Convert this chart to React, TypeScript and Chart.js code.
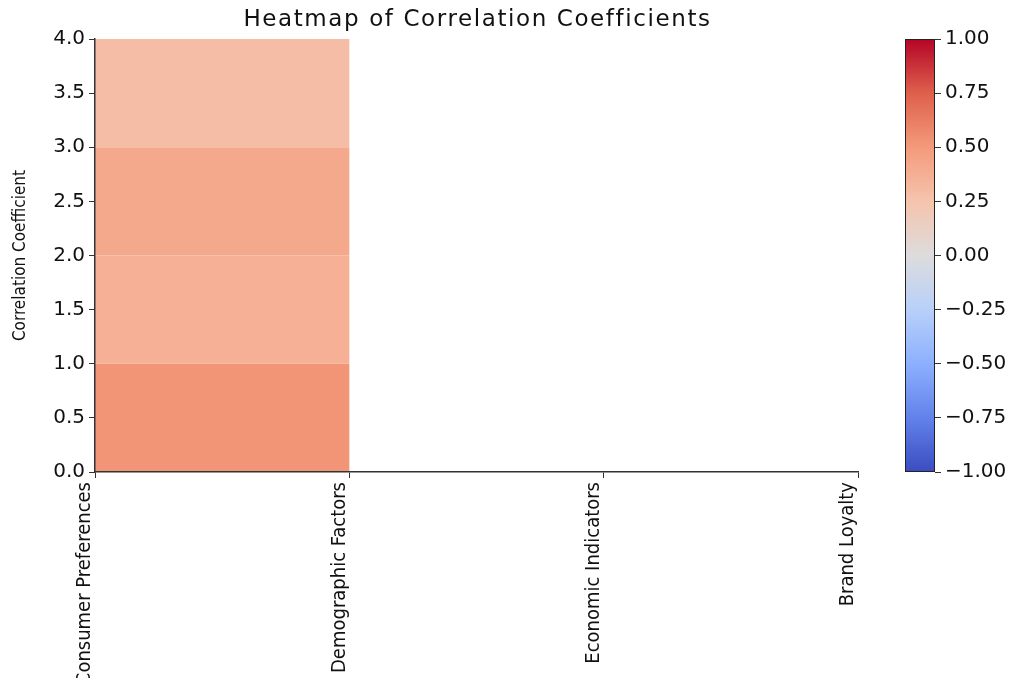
import React, { useEffect, useRef } from "react";
import { Chart, registerables } from "chart.js";

Chart.register(...registerables);

const chartTitle = "Heatmap of Correlation Coefficients";
const yAxisTitle = "Correlation Coefficient";
const categories = ["Consumer Preferences", "Demographic Factors", "Economic Indicators", "Brand Loyalty"];
const cellColumnStart = [0, 0, 0, 0];
const cellColumnEnd = [1, 1, 1, 1];
const rowLower = [0, 1, 2, 3];
const rowUpper = [1, 2, 3, 4];
const correlations = [0.52, 0.37, 0.41, 0.29];
const yTicks = [0, 0.5, 1, 1.5, 2, 2.5, 3, 3.5, 4];
const colorbarTicks = [-1, -0.75, -0.5, -0.25, 0, 0.25, 0.5, 0.75, 1];

const coolwarmStops: [number, number, number, number][] = [
  [0.0, 59, 76, 192],
  [0.125, 98, 130, 234],
  [0.25, 141, 176, 254],
  [0.375, 184, 208, 249],
  [0.5, 221, 220, 220],
  [0.625, 245, 196, 173],
  [0.75, 244, 154, 123],
  [0.875, 222, 96, 77],
  [1.0, 180, 4, 38],
];

function coolwarm(v: number): string {
  const t = Math.max(0, Math.min(1, (v + 1) / 2));
  for (let i = 0; i < coolwarmStops.length - 1; i++) {
    const a = coolwarmStops[i];
    const b = coolwarmStops[i + 1];
    if (t >= a[0] && t <= b[0]) {
      const f = (t - a[0]) / (b[0] - a[0]);
      const r = Math.round(a[1] + (b[1] - a[1]) * f);
      const g = Math.round(a[2] + (b[2] - a[2]) * f);
      const bl = Math.round(a[3] + (b[3] - a[3]) * f);
      return `rgb(${r},${g},${bl})`;
    }
  }
  return "rgb(180,4,38)";
}

const MAIN_FONT = "'DejaVu Sans', Lato, sans-serif";
const NARROW_FONT = "'Liberation Sans Narrow', 'DejaVu Sans Condensed', 'Roboto Condensed', sans-serif";

const cellPlugin = {
  id: "heatCells",
  beforeDraw(chart: any) {
    const { ctx, scales } = chart;
    const x = scales.x;
    const y = scales.y;
    ctx.save();
    correlations.forEach((v, i) => {
      const x0 = x.getPixelForValue(cellColumnStart[i]);
      const x1 = x.getPixelForValue(cellColumnEnd[i]);
      const yTop = y.getPixelForValue(rowUpper[i]);
      const yBot = y.getPixelForValue(rowLower[i]);
      ctx.fillStyle = coolwarm(v);
      ctx.fillRect(x0, yTop, x1 - x0, yBot - yTop);
    });
    ctx.restore();
  },
  afterDraw(chart: any) {
    const { ctx, chartArea } = chart;
    ctx.save();
    ctx.font = `normal 23px ${MAIN_FONT}`;
    (ctx as any).letterSpacing = "1.6px";
    ctx.fillStyle = "#111";
    ctx.textAlign = "center";
    ctx.textBaseline = "middle";
    ctx.fillText(chartTitle, (chartArea.left + chartArea.right) / 2 + 1, 20);
    ctx.restore();
  },
};

const colorbarPlugin = {
  id: "colorbarFill",
  beforeDraw(chart: any) {
    const { ctx, chartArea, scales } = chart;
    const y = scales.y;
    const top = y.getPixelForValue(colorbarTicks[colorbarTicks.length - 1]);
    const bottom = y.getPixelForValue(colorbarTicks[0]);
    const grad = ctx.createLinearGradient(0, bottom, 0, top);
    coolwarmStops.forEach((s) => grad.addColorStop(s[0], `rgb(${s[1]},${s[2]},${s[3]})`));
    ctx.save();
    ctx.fillStyle = grad;
    ctx.fillRect(chartArea.left, top, chartArea.right - chartArea.left, bottom - top);
    ctx.strokeStyle = "#222";
    ctx.lineWidth = 1;
    ctx.strokeRect(chartArea.left + 0.5, top + 0.5, chartArea.right - chartArea.left - 1, bottom - top - 1);
    ctx.restore();
  },
};

export default function App() {
  const mainRef = useRef<HTMLCanvasElement>(null);
  const barRef = useRef<HTMLCanvasElement>(null);

  useEffect(() => {
    const points = correlations.map((v, i) => ({
      x: (cellColumnStart[i] + cellColumnEnd[i]) / 2,
      y: (rowLower[i] + rowUpper[i]) / 2,
      v,
    }));
    const main = new Chart(mainRef.current!, {
      type: "scatter",
      data: {
        datasets: [
          {
            label: "Correlation",
            data: points,
            pointRadius: 0,
            pointHoverRadius: 0,
          },
        ],
      },
      options: {
        animation: false,
        responsive: false,
        events: [],
        layout: { padding: { left: 0, right: 161, top: 39, bottom: 0 } },
        plugins: {
          legend: { display: false },
          tooltip: { enabled: false },
          title: { display: false },
        },
        scales: {
          x: {
            type: "linear",
            min: 0,
            max: categories.length - 1,
            afterFit(scale: any) {
              scale.height = 206;
            },
            afterBuildTicks(scale: any) {
              scale.ticks = categories.map((_, i) => ({ value: i }));
            },
            ticks: {
              autoSkip: false,
              maxRotation: 90,
              minRotation: 90,
              padding: 4,
              labelOffset: -10,
              color: "#111",
              font: { family: NARROW_FONT, size: 20 },
              callback: (v: any) => categories[Math.round(Number(v))] ?? "",
            },
            grid: { drawOnChartArea: false, drawTicks: true, tickLength: 6, color: "#333" },
            border: { display: true, color: "#333", width: 1.5 },
          },
          y: {
            type: "linear",
            min: 0,
            max: 4,
            afterFit(scale: any) {
              scale.width = 95;
            },
            afterBuildTicks(scale: any) {
              scale.ticks = yTicks.map((v) => ({ value: v }));
            },
            title: {
              display: true,
              text: yAxisTitle,
              color: "#111",
              font: { family: NARROW_FONT, size: 17 },
              padding: { top: 10, bottom: 0 },
            },
            ticks: {
              padding: 4,
              color: "#111",
              font: { family: MAIN_FONT, size: 20 },
              callback: (v: any) => Number(v).toFixed(1),
            },
            grid: { drawOnChartArea: false, drawTicks: true, tickLength: 6, color: "#333" },
            border: { display: true, color: "#333", width: 1.5 },
          },
        },
      },
      plugins: [cellPlugin],
    } as any);

    const bar = new Chart(barRef.current!, {
      type: "bar",
      data: { labels: [""], datasets: [] },
      options: {
        animation: false,
        responsive: false,
        events: [],
        layout: { padding: { left: 25, right: 0, top: 39, bottom: 206 } },
        plugins: { legend: { display: false }, tooltip: { enabled: false }, title: { display: false } },
        scales: {
          x: { display: false },
          y: {
            position: "right",
            min: -1,
            max: 1,
            afterFit(scale: any) {
              scale.width = 84;
            },
            afterBuildTicks(scale: any) {
              scale.ticks = colorbarTicks.map((v) => ({ value: v }));
            },
            ticks: {
              padding: 4,
              color: "#111",
              font: { family: MAIN_FONT, size: 20 },
              callback: (v: any) => {
                const n = Number(v);
                return (n < 0 ? "\u2212" : "") + Math.abs(n).toFixed(2);
              },
            },
            grid: { drawOnChartArea: false, drawTicks: true, tickLength: 6, color: "#333" },
            border: { display: false },
          },
        },
      },
      plugins: [colorbarPlugin],
    } as any);

    return () => {
      main.destroy();
      bar.destroy();
    };
  }, []);

  return (
    <div style={{ position: "fixed", left: 0, top: 0, width: 1019, height: 678, background: "#fff", overflow: "hidden" }}>
      <canvas ref={mainRef} width={1019} height={678} style={{ position: "absolute", left: 0, top: 0 }} />
      <canvas ref={barRef} width={139} height={678} style={{ position: "absolute", left: 880, top: 0 }} />
    </div>
  );
}
